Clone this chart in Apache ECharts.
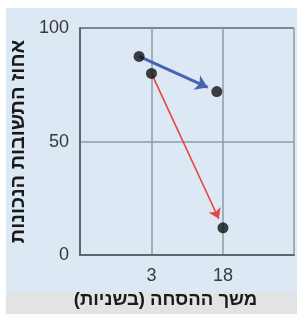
<!DOCTYPE html>
<html><head><meta charset="utf-8">
<script src="https://cdn.jsdelivr.net/npm/echarts@6/dist/echarts.min.js"></script>
<style>html,body{margin:0;padding:0;background:#fff}#c{width:297px;height:314px}</style>
</head><body><div id="c"></div>
<script>
// Data
const xTicks = [3, 18];
const yTicks = [0, 50, 100];
const blueStart = [0.4, 87.5];
const blueEnd = [16.7, 72];
const redStart = [3, 80];
const redEnd = [18, 12];
const yTitle = 'אחוז התשובות הנכונות';
const xTitle = 'משך ההסחה (בשניות)';

const font = '"Liberation Sans", Arial, sans-serif';
const chart = echarts.init(document.getElementById('c'), null, {renderer: 'canvas'});

const option = {
  animation: false,
  backgroundColor: '#ffffff',
  graphic: [
    {type: 'rect', z: -10, shape: {x: 6, y: 8, width: 291, height: 284}, style: {fill: '#dce8f3'}},
    {type: 'rect', z: -10, shape: {x: 6, y: 292, width: 291, height: 22}, style: {fill: '#e2e3e4'}}
  ],
  grid: {left: 78, top: 28, right: 0, bottom: 52, containLabel: false},
  xAxis: {
    type: 'value', min: -12, max: 32.9, interval: 15,
    name: xTitle, nameLocation: 'middle', nameGap: 28,
    nameTextStyle: {fontFamily: font, fontWeight: 'bold', fontSize: 18.5, color: '#1a1a1a', padding: [0, 43, 0, 0]},
    axisLine: {show: true, onZero: false, lineStyle: {color: '#5d6770', width: 2}},
    axisTick: {show: false},
    axisLabel: {fontFamily: font, fontSize: 18, color: '#3a3a3a', margin: 12,
      formatter: v => xTicks.includes(v) ? String(v) : ''},
    splitLine: {show: true, lineStyle: {color: '#8e9ca8', width: 1.5}}
  },
  yAxis: {
    type: 'value', min: 0, max: 100, interval: 50,
    name: yTitle, nameLocation: 'middle', nameGap: 52, nameRotate: 90,
    nameTextStyle: {fontFamily: font, fontWeight: 'bold', fontSize: 20, color: '#1a1a1a'},
    axisLine: {show: true, onZero: false, lineStyle: {color: '#5d6770', width: 2}},
    axisTick: {show: false},
    axisLabel: {fontFamily: font, fontSize: 18, color: '#3a3a3a', margin: 11,
      formatter: v => yTicks.includes(v) ? String(v) : ''},
    splitLine: {show: true, lineStyle: {color: ['#5d6770', '#8e9ca8', '#5d6770'], width: 1.5}}
  },
  series: [
    {type: 'lines', id: 'blueArrow', coordinateSystem: 'cartesian2d', z: 3,
      symbol: ['none', 'arrow'], symbolSize: 12,
      lineStyle: {color: '#4565b0', width: 3, opacity: 1},
      data: [{coords: [blueStart, blueEnd]}]},
    {type: 'lines', id: 'redArrow', coordinateSystem: 'cartesian2d', z: 3,
      symbol: ['none', 'arrow'], symbolSize: 10,
      lineStyle: {color: '#e8453e', width: 1.6, opacity: 1},
      data: [{coords: [redStart, redEnd]}]},
    {type: 'scatter', z: 5, symbolSize: 11, itemStyle: {color: '#111111'},
      data: [blueStart, blueEnd, redStart, redEnd]}
  ]
};
chart.setOption(option);

// shorten arrows so the head stops just before the end dot
function shorten(a, b, gapPx) {
  const pa = chart.convertToPixel({gridIndex: 0}, a);
  const pb = chart.convertToPixel({gridIndex: 0}, b);
  const dx = pb[0] - pa[0], dy = pb[1] - pa[1];
  const len = Math.hypot(dx, dy);
  const t = (len - gapPx) / len;
  return chart.convertFromPixel({gridIndex: 0}, [pa[0] + dx * t, pa[1] + dy * t]);
}
chart.setOption({series: [
  {id: 'blueArrow', data: [{coords: [blueStart, shorten(blueStart, blueEnd, 10)]}]},
  {id: 'redArrow', data: [{coords: [redStart, shorten(redStart, redEnd, 10)]}]}
]});
</script></body></html>
